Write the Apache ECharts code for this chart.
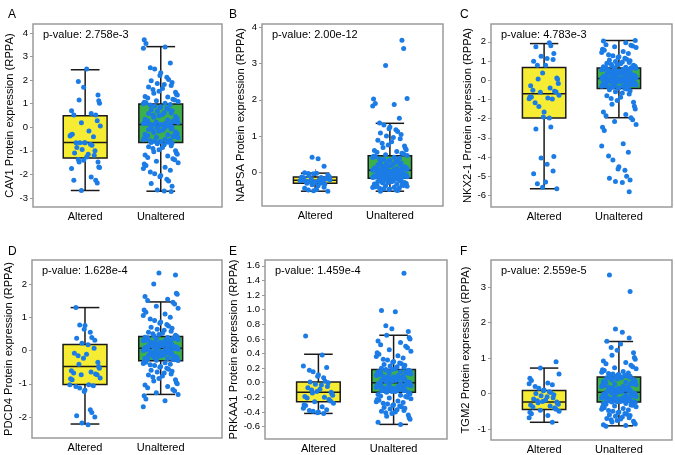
<!DOCTYPE html>
<html>
<head>
<meta charset="utf-8">
<script src="https://cdn.jsdelivr.net/npm/echarts@6/dist/echarts.min.js"></script>
<style>
  html, body { margin: 0; padding: 0; background: #fff; }
  #chart { width: 675px; height: 455px; }
</style>
</head>
<body>
<div id="chart"></div>
<script>
// data
const groupNames = ['Altered', 'Unaltered'];
const letters = ['A', 'B', 'C', 'D', 'E', 'F'];
const genes = ['CAV1', 'NAPSA', 'NKX2-1', 'PDCD4', 'PRKAA1', 'TGM2'];
const pValues = ['2.758e-3', '2.00e-12', '4.783e-3', '1.628e-4', '1.459e-4', '2.559e-5'];

// box stats: [min whisker, Q1, median, Q3, max whisker] for Altered, Unaltered
const cav1Box = [[-2.68, -1.30, -0.65, 0.49, 2.44], [-2.71, -0.65, 0.12, 0.99, 3.42]];
const napsaBox = [[-0.53, -0.31, -0.23, -0.14, -0.03], [-0.53, -0.17, 0.05, 0.45, 1.35]];
const nkx21Box = [[-5.65, -1.97, -0.70, 0.66, 1.91], [-1.95, -0.43, 0.09, 0.64, 2.07]];
const pdcd4Box = [[-2.21, -1.02, -0.48, 0.18, 1.29], [-1.32, -0.31, 0.07, 0.42, 1.46]];
const prkaa1Box = [[-0.42, -0.26, -0.13, 0.01, 0.39], [-0.57, -0.13, 0.00, 0.18, 0.65]];
const tgm2Box = [[-0.81, -0.45, -0.24, 0.09, 0.72], [-0.91, -0.24, 0.04, 0.47, 1.47]];

// y tick labels per panel
const cav1Ticks = [-3, -2, -1, 0, 1, 2, 3, 4];
const napsaTicks = [0, 1, 2, 3, 4];
const nkx21Ticks = [-6, -5, -4, -3, -2, -1, 0, 1, 2];
const pdcd4Ticks = [-2, -1, 0, 1, 2];
const prkaa1Ticks = [-0.6, -0.4, -0.2, 0.0, 0.2, 0.4, 0.6, 0.8, 1.0, 1.2, 1.4, 1.6];
const tgm2Ticks = [-1, 0, 1, 2, 3];

// individual samples
const cav1Altered = [2.47, 1.94, 1.70, 1.37, 1.16, 1.13, 1.02, 0.70, 0.59, 0.52, 0.52, 0.28, 0.19, 0.05, -0.33, -0.29, -0.16, -0.37, -0.40, -0.66, -0.66, -0.66, -0.66, -0.72, -0.76, -0.86, -1.0, -0.94, -1.14, -1.19, -1.09, -1.26, -1.37, -1.40, -1.47, -1.47, -1.68, -1.71, -1.75, -2.11, -2.25, -2.25, -2.36, -2.68];
const cav1Unaltered = [3.71, 3.55, 3.41, 3.35, 2.73, 2.52, 2.47, 2.31, 2.2, 2.12, 2.03, 1.97, 1.9, 1.86, 1.81, 1.77, 1.71, 1.64, 1.6, 1.53, 1.49, 1.44, 1.4, 1.37, 1.31, 1.28, 1.24, 1.19, 1.16, 1.13, 1.09, 1.06, 1.04, 1.02, 1.0,
  0.97, 0.94, 0.9, 0.87, 0.83, 0.81, 0.77, 0.74, 0.7, 0.68, 0.63, 0.61, 0.58, 0.54, 0.51, 0.49, 0.46, 0.43, 0.4, 0.36, 0.34, 0.31, 0.28, 0.27, 0.24, 0.22, 0.2, 0.19, 0.17, 0.16, 0.15, 0.14, 0.13, 0.13, 0.12,
  0.1, 0.08, 0.05, 0.03, 0.01, -0.02, -0.04, -0.07, -0.09, -0.12, -0.14, -0.17, -0.19, -0.22, -0.25, -0.27, -0.3, -0.32, -0.35, -0.37, -0.4, -0.42, -0.44, -0.47, -0.49, -0.51, -0.53, -0.55, -0.57, -0.59, -0.6, -0.61, -0.62, -0.63, -0.64,
  -0.67, -0.7, -0.74, -0.78, -0.82, -0.86, -0.9, -0.95, -1.0, -1.04, -1.09, -1.14, -1.18, -1.22, -1.28, -1.33, -1.38, -1.44, -1.5, -1.56, -1.62, -1.69, -1.75, -1.82, -1.9, -1.97, -2.04, -2.1, -2.2, -2.28, -2.38, -2.5, -2.66, -2.7, -2.72];

const napsaAltered = [0.41, 0.37, 0.16, -0.02, -0.03, -0.04, -0.05, -0.08, -0.1, -0.12, -0.13, -0.14, -0.15, -0.16, -0.18, -0.19, -0.2, -0.21, -0.22, -0.23, -0.23, -0.24, -0.25, -0.26, -0.27, -0.28, -0.29, -0.3, -0.3, -0.31, -0.33, -0.35, -0.38, -0.42, -0.45, -0.48, -0.5, -0.52, -0.53];
const napsaUnaltered = [3.65, 3.42, 2.95, 2.04, 2.02, 1.9, 1.87, 1.83, 1.49, 1.36, 1.3, 1.25, 1.2, 1.17, 1.12, 1.08, 1.04, 1.0, 0.96, 0.92, 0.88, 0.84, 0.8, 0.75, 0.72, 0.68, 0.66, 0.62, 0.6, 0.57, 0.55, 0.52, 0.5, 0.48, 0.46,
  0.44, 0.43, 0.41, 0.4, 0.38, 0.36, 0.35, 0.33, 0.31, 0.3, 0.28, 0.27, 0.25, 0.24, 0.22, 0.21, 0.2, 0.18, 0.17, 0.16, 0.15, 0.14, 0.13, 0.12, 0.11, 0.1, 0.1, 0.09, 0.08, 0.08, 0.07, 0.07, 0.06, 0.06, 0.05,
  0.04, 0.04, 0.03, 0.02, 0.02, 0.01, 0.0, 0.0, -0.01, -0.02, -0.03, -0.03, -0.04, -0.05, -0.06, -0.06, -0.07, -0.08, -0.08, -0.09, -0.1, -0.1, -0.11, -0.12, -0.12, -0.13, -0.13, -0.14, -0.14, -0.15, -0.15, -0.16, -0.16, -0.17, -0.17,
  -0.18, -0.19, -0.2, -0.21, -0.22, -0.23, -0.24, -0.25, -0.26, -0.27, -0.28, -0.29, -0.29, -0.3, -0.31, -0.32, -0.33, -0.34, -0.35, -0.36, -0.37, -0.38, -0.39, -0.4, -0.41, -0.42, -0.43, -0.44, -0.45, -0.46, -0.47, -0.48, -0.5, -0.51, -0.53];

const nkx21Altered = [1.95, 1.8, 1.74, 1.39, 1.25, 1.13, 1.08, 0.99, 0.78, 0.78, 0.38, 0.12, 0.07, 0.05, -0.17, -0.28, -0.4, -0.52, -0.57, -0.61, -0.63, -0.78, -0.87, -0.87, -0.92, -0.96, -0.97, -1.17, -1.36, -1.65, -1.91, -1.97, -2.43, -2.54, -3.97, -4.05, -4.38, -4.73, -4.87, -5.3, -5.39, -5.57, -5.65];
const nkx21Unaltered = [2.07, 2.05, 1.95, 1.85, 1.82, 1.78, 1.74, 1.7, 1.62, 1.56, 1.5, 1.45, 1.4, 1.33, 1.28, 1.22, 1.18, 1.14, 1.1, 1.06, 1.02, 0.98, 0.95, 0.92, 0.89, 0.86, 0.83, 0.8, 0.78, 0.76, 0.74, 0.72, 0.7, 0.68, 0.66, 0.65, 0.64,
  0.63, 0.62, 0.6, 0.58, 0.57, 0.55, 0.53, 0.52, 0.5, 0.48, 0.47, 0.45, 0.43, 0.42, 0.4, 0.38, 0.37, 0.35, 0.33, 0.32, 0.3, 0.28, 0.27, 0.25, 0.23, 0.22, 0.2, 0.19, 0.17, 0.16, 0.15, 0.14, 0.13, 0.12, 0.11, 0.1, 0.09,
  0.08, 0.07, 0.06, 0.05, 0.04, 0.03, 0.02, 0.01, 0.0, -0.01, -0.02, -0.04, -0.05, -0.06, -0.08, -0.09, -0.1, -0.12, -0.13, -0.15, -0.16, -0.18, -0.19, -0.21, -0.22, -0.24, -0.25, -0.27, -0.28, -0.3, -0.31, -0.33, -0.35, -0.37, -0.39, -0.41, -0.43,
  -0.46, -0.5, -0.55, -0.6, -0.66, -0.72, -0.8, -0.88, -0.95, -1.05, -1.15, -1.25, -1.35, -1.5, -1.65, -1.78, -1.85, -1.95, -2.05, -2.15, -2.3, -2.45, -2.62, -3.3, -3.42, -3.75, -3.95, -4.15, -4.5, -4.62, -4.68, -5.0, -5.1, -5.2, -5.27, -5.32, -5.8];

const pdcd4Altered = [1.29, 0.77, 0.75, 0.64, 0.55, 0.39, 0.37, 0.31, 0.22, 0.17, 0.07, -0.08, -0.11, -0.16, -0.23, -0.35, -0.41, -0.48, -0.53, -0.61, -0.65, -0.68, -0.71, -0.73, -0.73, -0.83, -0.85, -0.88, -1.03, -1.03, -1.06, -1.08, -1.13, -1.19, -1.23, -1.78, -1.86, -1.96, -2.0, -2.18, -2.23];
const pdcd4Unaltered = [2.33, 2.27, 2.0, 1.72, 1.69, 1.62, 1.54, 1.5, 1.45, 1.4, 1.33, 1.27, 1.22, 1.15, 1.1, 1.05, 1.0, 0.95, 0.9, 0.86, 0.82, 0.78, 0.74, 0.7, 0.67, 0.64, 0.61, 0.58, 0.55, 0.52, 0.5, 0.48, 0.46, 0.44, 0.43,
  0.41, 0.4, 0.39, 0.38, 0.37, 0.36, 0.35, 0.33, 0.32, 0.31, 0.3, 0.29, 0.28, 0.26, 0.25, 0.24, 0.23, 0.22, 0.21, 0.2, 0.19, 0.18, 0.17, 0.16, 0.15, 0.14, 0.13, 0.12, 0.11, 0.11, 0.1, 0.09, 0.09, 0.08, 0.07,
  0.06, 0.05, 0.05, 0.04, 0.03, 0.02, 0.01, 0.0, -0.01, -0.02, -0.03, -0.04, -0.05, -0.06, -0.08, -0.09, -0.1, -0.11, -0.12, -0.13, -0.14, -0.15, -0.16, -0.17, -0.18, -0.2, -0.21, -0.22, -0.23, -0.24, -0.26, -0.27, -0.28, -0.29, -0.3,
  -0.33, -0.35, -0.37, -0.39, -0.41, -0.43, -0.45, -0.48, -0.5, -0.53, -0.56, -0.59, -0.62, -0.65, -0.68, -0.71, -0.74, -0.77, -0.8, -0.84, -0.88, -0.92, -0.96, -1.0, -1.04, -1.08, -1.12, -1.17, -1.22, -1.27, -1.32, -1.36, -1.46, -1.51, -1.69];

const prkaa1Altered = [0.64, 0.38, 0.23, 0.21, 0.17, 0.15, 0.11, 0.09, 0.07, 0.02, 0.01, 0.0, -0.02, -0.03, -0.05, -0.07, -0.09, -0.1, -0.12, -0.13, -0.14, -0.15, -0.17, -0.19, -0.2, -0.21, -0.23, -0.25, -0.26, -0.28, -0.3, -0.31, -0.33, -0.35, -0.37, -0.38, -0.39, -0.4, -0.41, -0.42];
const prkaa1Unaltered = [1.5, 0.99, 0.97, 0.78, 0.74, 0.7, 0.65, 0.62, 0.6, 0.57, 0.55, 0.52, 0.5, 0.48, 0.45, 0.43, 0.41, 0.39, 0.37, 0.36, 0.34, 0.32, 0.31, 0.29, 0.28, 0.27, 0.26, 0.25, 0.24, 0.23, 0.22, 0.21, 0.2, 0.19, 0.18,
  0.18, 0.17, 0.17, 0.16, 0.16, 0.15, 0.15, 0.14, 0.14, 0.13, 0.13, 0.12, 0.12, 0.11, 0.1, 0.1, 0.09, 0.09, 0.08, 0.08, 0.07, 0.07, 0.06, 0.06, 0.05, 0.05, 0.04, 0.04, 0.03, 0.03, 0.02, 0.02, 0.01, 0.01, 0.0,
  0.0, -0.01, -0.01, -0.02, -0.02, -0.03, -0.03, -0.04, -0.04, -0.05, -0.05, -0.06, -0.06, -0.07, -0.07, -0.08, -0.08, -0.09, -0.09, -0.1, -0.1, -0.1, -0.11, -0.11, -0.11, -0.12, -0.12, -0.12, -0.13, -0.13,
  -0.14, -0.15, -0.16, -0.17, -0.18, -0.19, -0.2, -0.21, -0.22, -0.23, -0.24, -0.25, -0.26, -0.27, -0.28, -0.29, -0.3, -0.31, -0.32, -0.33, -0.34, -0.35, -0.36, -0.37, -0.38, -0.39, -0.4, -0.41, -0.42, -0.44, -0.46, -0.48, -0.5, -0.54, -0.57];

const tgm2Altered = [0.9, 0.72, 0.55, 0.43, 0.37, 0.3, 0.28, 0.25, 0.2, 0.15, 0.1, 0.08, 0.05, 0.03, 0.0, -0.03, -0.06, -0.09, -0.12, -0.15, -0.18, -0.2, -0.22, -0.24, -0.26, -0.28, -0.3, -0.32, -0.35, -0.38, -0.41, -0.44, -0.47, -0.5, -0.53, -0.57, -0.62, -0.68, -0.81];
const tgm2Unaltered = [3.35, 2.88, 1.82, 1.73, 1.57, 1.48, 1.4, 1.3, 1.22, 1.15, 1.08, 1.02, 0.97, 0.92, 0.88, 0.84, 0.8, 0.76, 0.73, 0.7, 0.67, 0.65, 0.62, 0.6, 0.58, 0.57, 0.55, 0.54, 0.53, 0.52, 0.51, 0.5, 0.49, 0.48, 0.47,
  0.46, 0.45, 0.44, 0.42, 0.41, 0.4, 0.38, 0.37, 0.35, 0.34, 0.32, 0.31, 0.3, 0.28, 0.27, 0.25, 0.24, 0.23, 0.21, 0.2, 0.19, 0.18, 0.16, 0.15, 0.14, 0.13, 0.12, 0.11, 0.1, 0.09, 0.08, 0.07, 0.06, 0.05, 0.04,
  0.03, 0.02, 0.01, 0.0, -0.01, -0.02, -0.03, -0.04, -0.05, -0.06, -0.07, -0.08, -0.09, -0.1, -0.11, -0.12, -0.13, -0.14, -0.15, -0.15, -0.16, -0.17, -0.18, -0.18, -0.19, -0.2, -0.2, -0.21, -0.21, -0.22, -0.22, -0.23, -0.23, -0.24, -0.24,
  -0.25, -0.27, -0.28, -0.3, -0.32, -0.33, -0.35, -0.37, -0.38, -0.4, -0.42, -0.44, -0.46, -0.48, -0.5, -0.52, -0.54, -0.56, -0.58, -0.6, -0.62, -0.64, -0.66, -0.68, -0.7, -0.72, -0.74, -0.76, -0.78, -0.8, -0.83, -0.86, -0.88, -0.9, -0.92];

// layout (pixels) and axis ranges for each panel
const panels = [
    { box: cav1Box, alt: cav1Altered, unalt: cav1Unaltered, ticks: cav1Ticks, grid: [33, 24, 189, 183], y: [-3.38, 4.38], x: [0.31, 2.81], gap: 18, letter: [3, 4] },
    { box: napsaBox, alt: napsaAltered, unalt: napsaUnaltered, ticks: napsaTicks, grid: [262, 24, 181, 182], y: [-0.94, 4.1], x: [0.29, 2.71], gap: 16, letter: [224, 4] },
    { box: nkx21Box, alt: nkx21Altered, unalt: nkx21Unaltered, ticks: nkx21Ticks, grid: [491, 24, 181, 183], y: [-6.6, 2.93], x: [0.29, 2.71], gap: 15, letter: [455, 4] },
    { box: pdcd4Box, alt: pdcd4Altered, unalt: pdcd4Unaltered, ticks: pdcd4Ticks, grid: [32, 260, 190, 178], y: [-2.63, 2.72], x: [0.30, 2.81], gap: 14, letter: [3, 241] },
    { box: prkaa1Box, alt: prkaa1Altered, unalt: prkaa1Unaltered, ticks: prkaa1Ticks, grid: [265, 260, 182, 179], y: [-0.77, 1.68], x: [0.29, 2.71], gap: 19, letter: [224, 241], dec: 1 },
    { box: tgm2Box, alt: tgm2Altered, unalt: tgm2Unaltered, ticks: tgm2Ticks, grid: [491, 260, 181, 180], y: [-1.31, 3.77], x: [0.29, 2.71], gap: 20, letter: [455, 241] }
];

// horizontal jitter pattern for the dots (long, irregular so no columns show)
const jitter = [0.02, -0.15, 0.11, -0.04, 0.18, -0.19, 0.07, -0.09, 0.14, -0.12, 0.04, 0.19, -0.17, 0.09,
    -0.02, 0.16, -0.07, 0.12, -0.18, 0.05, -0.11, 0.17, -0.05, 0.0, -0.14, 0.08, -0.2, 0.13, -0.08, 0.2, -0.01];

const FONT = 'Liberation Sans, Arial, sans-serif';
const boxColors = ['#f6ec33', '#3cb04a'];
const dotColor = '#1c7ce6';

function renderBox(params, api) {
    const x = api.value(0);
    const w = api.size([0.58, 0])[0];
    const cw = api.size([0.38, 0])[0];
    const pMin = api.coord([x, api.value(1)]);
    const pQ1 = api.coord([x, api.value(2)]);
    const pMed = api.coord([x, api.value(3)]);
    const pQ3 = api.coord([x, api.value(4)]);
    const pMax = api.coord([x, api.value(5)]);
    const line = { stroke: '#1a1a1a', lineWidth: 1.5 };
    const cx = pMin[0];
    return {
        type: 'group',
        children: [
            { type: 'line', shape: { x1: cx, y1: pMin[1], x2: cx, y2: pQ1[1] }, style: line },
            { type: 'line', shape: { x1: cx, y1: pQ3[1], x2: cx, y2: pMax[1] }, style: line },
            { type: 'line', shape: { x1: cx - cw / 2, y1: pMin[1], x2: cx + cw / 2, y2: pMin[1] }, style: line },
            { type: 'line', shape: { x1: cx - cw / 2, y1: pMax[1], x2: cx + cw / 2, y2: pMax[1] }, style: line },
            { type: 'rect', shape: { x: cx - w / 2, y: pQ3[1], width: w, height: pQ1[1] - pQ3[1] },
              style: { fill: boxColors[api.value(6)], stroke: '#1a1a1a', lineWidth: 1.5 } },
            { type: 'line', shape: { x1: cx - w / 2, y1: pMed[1], x2: cx + w / 2, y2: pMed[1] }, style: line }
        ]
    };
}

const option = { animation: false, grid: [], xAxis: [], yAxis: [], series: [], title: [], graphic: [] };

panels.forEach((p, i) => {
    option.grid.push({
        left: p.grid[0], top: p.grid[1], width: p.grid[2], height: p.grid[3],
        show: true, borderColor: '#9a9a9a', borderWidth: 1.5, backgroundColor: 'transparent'
    });
    option.xAxis.push({
        type: 'value', gridIndex: i, min: p.x[0], max: p.x[1],
        axisLine: { show: false }, splitLine: { show: false },
        axisTick: { show: true, inside: true, length: 3, customValues: [1, 2], lineStyle: { color: '#9a9a9a' } },
        axisLabel: { customValues: [1, 2], margin: 4, color: '#000', fontSize: 11, fontFamily: FONT,
            formatter: v => groupNames[Math.round(v) - 1] }
    });
    option.yAxis.push({
        type: 'value', gridIndex: i, min: p.y[0], max: p.y[1],
        name: genes[i] + ' Protein expression (RPPA)', nameLocation: 'middle', nameGap: p.gap,
        nameTextStyle: { color: '#000', fontSize: 11.2, fontFamily: FONT },
        axisLine: { show: false }, splitLine: { show: false },
        axisTick: { show: true, length: 3, customValues: p.ticks, lineStyle: { color: '#9a9a9a' } },
        axisLabel: { customValues: p.ticks, margin: 5, color: '#000', fontSize: 9.5, fontFamily: FONT,
            formatter: v => p.dec ? v.toFixed(1) : String(Math.round(v)) }
    });
    option.series.push({
        type: 'custom', xAxisIndex: i, yAxisIndex: i, renderItem: renderBox, z: 2,
        data: p.box.map((b, k) => [k + 1, b[0], b[1], b[2], b[3], b[4], k])
    });
    [p.alt, p.unalt].forEach((vals, k) => {
        option.series.push({
            type: 'scatter', xAxisIndex: i, yAxisIndex: i, z: 3, symbolSize: 5,
            itemStyle: { color: dotColor, opacity: 1 },
            data: vals.map((v, j) => [k + 1 + jitter[(j * 7 + k * 5 + i * 3) % jitter.length] * (k ? 1.15 : 1), v])
        });
    });
    option.title.push({
        text: letters[i], left: p.letter[0], top: p.letter[1],
        textStyle: { fontSize: 12, fontWeight: 'normal', color: '#000', fontFamily: FONT }
    });
    option.graphic.push({
        type: 'text', left: p.grid[0] + 10, top: p.grid[1] + 5,
        style: { text: 'p-value: ' + pValues[i], fontSize: 11, fill: '#000', fontFamily: FONT }
    });
});

const chart = echarts.init(document.getElementById('chart'));
chart.setOption(option);
</script>
</body>
</html>
